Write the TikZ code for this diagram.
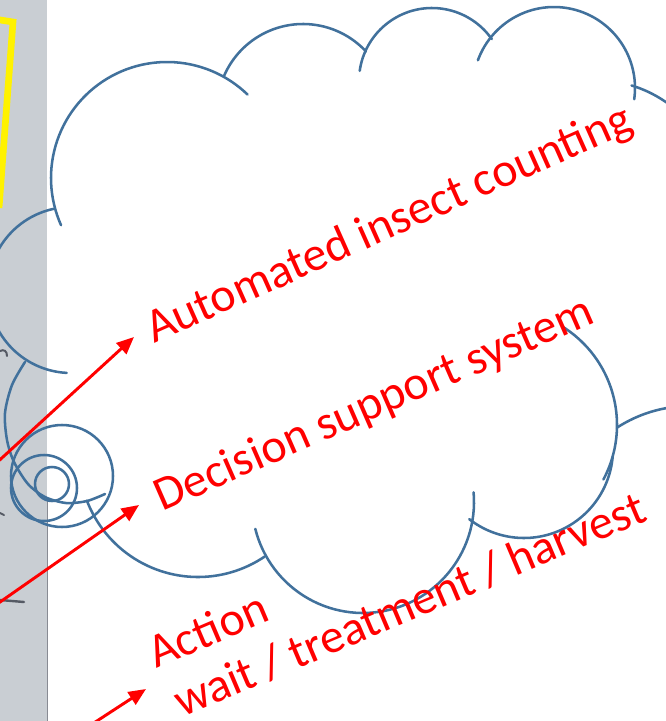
\documentclass[tikz,border=0pt]{standalone}
\usepackage{fontspec}
\setmainfont{Carlito}
\usetikzlibrary{arrows.meta}
\definecolor{nuage}{RGB}{65, 113, 156}
\definecolor{fond}{RGB}{201, 206, 211}
\definecolor{rouge}{RGB}{255, 0, 0}
\definecolor{crayon}{RGB}{85, 90, 100}
% arc of the cloud: centre x, centre y, radius, start angle, end angle
\newcommand*\bulle[5]{\draw[nuage, line width=1.9pt, line cap=round]
            plot[domain=#4:#5, samples=60] ({#1+#3*cos(\x)}, {#2+#3*sin(\x)});}
\tikzset{
    lbl/.style={text=rouge, font=\fontsize{36}{43}\selectfont, inner sep=0pt, anchor=base west},
    fleche/.style={rouge, line width=2.2pt, -{Triangle[length=13pt, width=11pt]}}
}

\begin{document}
\begin{tikzpicture}[x=0.75pt, y=-0.75pt]
    \useasboundingbox (0,0) rectangle (666,721);
    \clip (0,0) rectangle (666,721);
    \fill[white] (0,0) rectangle (666,721);

    % Photo en fond a gauche
    \fill[fond] (0,0) rectangle (47,721);
    \draw[crayon!70, line width=0.6pt] (47,500) -- (47,721);
    \draw[yellow, line width=5pt] (-6,19) -- (13,22) -- (-1,208);
    \draw[crayon, line width=1.5pt, line cap=round] (0,351) .. controls (4,349) and (7,351) .. (7,356);
    \draw[crayon, line width=1.5pt, line cap=round] (0,513) -- (4,515);
    \draw[crayon, line width=1.8pt, line cap=round] (0,600) -- (24,602);

    % Nuage
    \bulle{167}{178}{116}{156}{314}
    \bulle{303}{110}{86}{203}{317}
    \bulle{432}{81}{73}{188}{325}
    \bulle{554}{88}{81}{200}{368}
    \bulle{595}{205}{125}{287}{340}
    \bulle{690}{540}{134}{237}{300}
    \bulle{501}{425}{116}{-58}{28}
    \bulle{524}{449}{89}{5}{128}
    \bulle{363}{502}{111}{-5}{166}
    \bulle{198}{458}{119}{56}{159}
    \bulle{71}{290}{83}{93}{258}
    \draw[nuage, line width=1.9pt, line cap=round] plot[smooth] coordinates
        {(25,362) (12,385) (5,413) (7,440) (14,462) (28,484) (45,497) (66,503) (87,501) (105,494)};

    % Petites bulles
    \draw[nuage, line width=1.9pt] (62,476) circle (51);
    \draw[nuage, line width=1.9pt] (44,488) circle (33);
    \draw[nuage, line width=1.9pt] (52,484) circle (17);

    % Textes
    \node[lbl, rotate=24] (comptage) at (154,344) {Automated insect counting};
    \node[lbl, rotate=23.6] (decision) at (162,512) {Decision support system};
    \node[lbl, rotate=23] (action) at (156,669) {Action};
    \node[lbl, rotate=23] (choix) at (182,718) {wait / treatment / harvest};

    % Fleches
    \coordinate (queueA) at (-20,478);
    \coordinate (pointeA) at (134,337);
    \coordinate (queueB) at (-20,616);
    \coordinate (pointeB) at (139,505);
    \coordinate (queueC) at (80,732);
    \coordinate (pointeC) at (146,689);
    \draw[fleche] (queueA) -- (pointeA);
    \draw[fleche] (queueB) -- (pointeB);
    \draw[fleche] (queueC) -- (pointeC);
\end{tikzpicture}
\end{document}
